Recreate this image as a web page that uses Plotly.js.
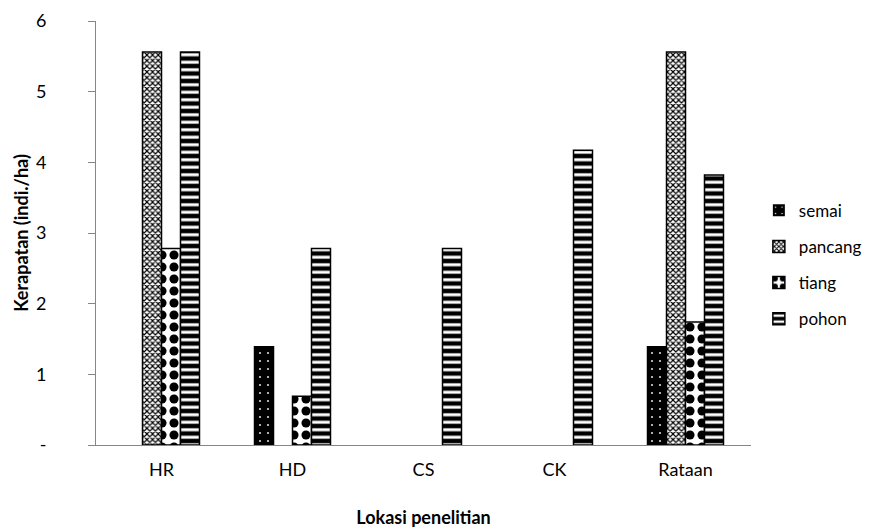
<!DOCTYPE html>
<html>
<head>
<meta charset="utf-8">
<script src="https://cdn.plot.ly/plotly-3.0.1.min.js"></script>
<style>html,body{margin:0;padding:0;background:#fff}#chart{width:894px;height:532px}</style>
</head>
<body>
<div id="chart"></div>
<script>
var categories = ["HR", "HD", "CS", "CK", "Rataan"];
var semai   = [0, 1.39, 0, 0, 1.39];
var pancang = [5.56, 0, 0, 0, 5.56];
var tiang   = [2.78, 0.69, 0, 0, 1.74];
var pohon   = [5.56, 2.78, 2.78, 4.17, 3.82];
var yTickVals = [0, 1, 2, 3, 4, 5, 6];
var yTickText = ["-", "1", "2", "3", "4", "5", "6"];

function outline(vals) {
  return {color: "#000", width: vals.map(function (v) { return v > 0 ? 1.5 : 0; })};
}
var traces = [
  {name: "semai", y: semai, marker: {color: "#000", line: outline(semai),
    pattern: {shape: ".", fgcolor: "#fff", bgcolor: "#000", size: 8, solidity: 0.04, fillmode: "replace"}}},
  {name: "pancang", y: pancang, marker: {color: "#fff", line: outline(pancang),
    pattern: {shape: "x", fgcolor: "#000", bgcolor: "#fff", size: 4, solidity: 0.5, fillmode: "replace"}}},
  {name: "tiang", y: tiang, marker: {color: "#fff", line: outline(tiang),
    pattern: {shape: ".", fgcolor: "#000", bgcolor: "#fff", size: 12, solidity: 0.45, fillmode: "replace"}}},
  {name: "pohon", y: pohon, marker: {color: "#000", line: outline(pohon),
    pattern: {shape: "-", fgcolor: "#fff", bgcolor: "#000", size: 7.5, solidity: 0.4, fillmode: "replace"}}}
].map(function (t, i) {
  t.type = "bar";
  t.x = categories;
  t.legendgroup = "g" + i;
  t.hoverinfo = "none";
  return t;
});

var fam = "Lato, 'Open Sans', sans-serif";
var layout = {
  width: 894, height: 532,
  margin: {l: 96, r: 143, t: 21, b: 87},
  paper_bgcolor: "#fff", plot_bgcolor: "#fff",
  font: {family: fam, size: 18, color: "#000"},
  showlegend: true,
  barmode: "group",
  bargap: 0.42,
  bargroupgap: 0,
  xaxis: {
    showline: true, linecolor: "#868686", linewidth: 1,
    ticks: "outside", ticklen: 8, tickcolor: "rgba(0,0,0,0)",
    tickfont: {family: fam, size: 18, color: "#000"},
    showgrid: false, zeroline: false, automargin: false,
    title: {text: "Lokasi penelitian", font: {family: fam, size: 18, color: "#000", weight: "bold"}, standoff: 32}
  },
  yaxis: {
    range: [0, 6],
    tickvals: yTickVals, ticktext: yTickText,
    showline: true, linecolor: "#868686", linewidth: 1,
    ticks: "outside", ticklen: 7, tickcolor: "#868686",
    ticklabelstandoff: 38,
    tickfont: {family: fam, size: 18, color: "#000"},
    showgrid: false, zeroline: false, automargin: false,
    title: {text: "Kerapatan (indi./ha)", font: {family: fam, size: 18, color: "#000", weight: "bold"}, standoff: 2}
  },
  legend: {
    x: 1.012, xanchor: "left", y: 0.425, yanchor: "middle",
    font: {family: fam, size: 17, color: "#000"},
    tracegroupgap: 11, traceorder: "grouped",
    itemwidth: 30, bgcolor: "rgba(0,0,0,0)"
  }
};

Plotly.newPlot("chart", traces, layout, {displayModeBar: false, staticPlot: true});
</script>
</body>
</html>
